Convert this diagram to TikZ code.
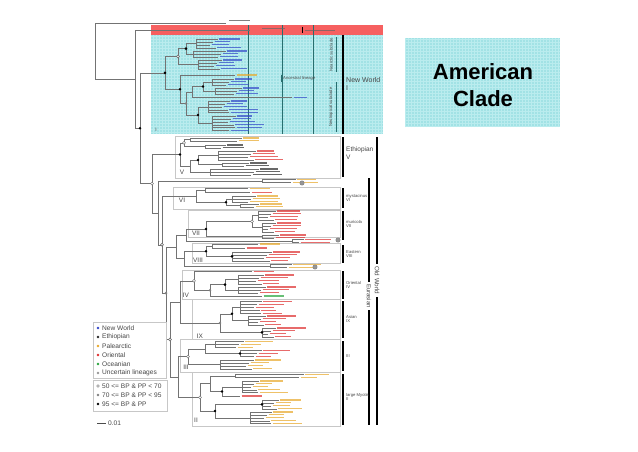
\documentclass[tikz,border=0pt]{standalone}
\usepackage{fontspec}
\setmainfont{Liberation Sans}
\usetikzlibrary{calc}

\definecolor{nwc}{RGB}{50,70,200}
\definecolor{pal}{RGB}{232,168,40}
\definecolor{ori}{RGB}{222,45,45}
\definecolor{eth}{RGB}{40,40,40}
\definecolor{oce}{RGB}{40,165,60}
\definecolor{unc}{RGB}{150,150,150}
\definecolor{cyanbg}{RGB}{162,226,229}
\definecolor{cyangrid}{RGB}{186,236,238}
\definecolor{redbg}{RGB}{246,96,96}
\definecolor{tealline}{RGB}{40,110,110}
\definecolor{labgrey}{RGB}{70,70,70}

\tikzset{
  branch/.style={draw=black!55,line width=0.4pt},
  tiplab/.style={draw=#1,line width=1.1pt,opacity=0.7},
  s95/.style={fill=black},
  s70/.style={fill=black!50},
  s50/.style={fill=white,draw=black!60,line width=0.4pt},
  uncmark/.style={fill=unc,draw=black!50,line width=0.4pt},
  cladebox/.style={draw=black!22,line width=0.4pt},
  bar/.style={line width=1.7pt,black},
  sublab/.style={font=\fontsize{4.2}{4.6}\selectfont,text=labgrey,align=left,anchor=north west,inner sep=0pt},
  roman/.style={font=\fontsize{6.5}{7}\selectfont,text=labgrey,inner sep=0pt},
  leg/.style={font=\fontsize{6.6}{7}\selectfont,text=labgrey,anchor=west,inner sep=0pt}
}

% group of tips hanging from one node
\newcommand\clgrp[6]{%
  \pgfmathsetmacro\ylast{#3+(#4-1)*2.9}
  \coordinate (#1) at (#2,{(#3+\ylast)/2});
  \draw[branch] (#2,#3) -- (#2,\ylast);
  \foreach \k in {1,...,#4}{
    \pgfmathsetmacro\ty{#3+(\k-1)*2.9}
    \pgfmathsetmacro\tx{#5+4*sin(\k*97)}
    \draw[branch] (#2,\ty) -- (\tx,\ty);
    \draw[tiplab=#6] ({\tx+1.5},\ty) -- ++({22+7*cos(\k*61+#3)},0);
  }
}
% single tip
\newcommand\cltip[4]{%
  \coordinate (#1) at (#3,#2);
  \draw[tiplab=#4] ({#3+1.5},#2) -- ++(20,0);
}
% inner node joining two named children
\newcommand\clnode[4]{%
  \path let \p1=(#3), \p2=(#4) in coordinate (#1) at (#2pt,{(\y1+\y2)/2});
  \draw[branch] (#1 |- #3) -- (#1 |- #4) (#1 |- #3) -- (#3) (#1 |- #4) -- (#4);
}

\begin{document}
\begin{tikzpicture}[x=1pt,y=-1pt]
  \useasboundingbox (0,0) rectangle (638,451);
  \fill[white] (0,0) rectangle (638,451);

  % shaded bands
  \fill[cyanbg] (151,35) rectangle (383,134);
  \draw[cyangrid,line width=0.15pt,step=3pt] (151,35) grid (383,134);
  \fill[redbg] (151,25) rectangle (383,35);
  \foreach \xl in {248,282,313}
    \draw[tealline,line width=0.4pt] (\xl,25) -- (\xl,134);

  % clade boxes
  \draw[cladebox] (175,136) rectangle (340,178);
  \draw[cladebox] (173,187) rectangle (340,209);
  \draw[cladebox] (188,210) rectangle (340,237);
  \draw[cladebox] (192,243) rectangle (340,263);
  \draw[cladebox] (182,270) rectangle (340,299.5);
  \draw[cladebox] (192,299.5) rectangle (340,339);
  \draw[cladebox] (180,339.5) rectangle (340,372);
  \draw[cladebox] (192,372.5) rectangle (340,426);

  % outgroups
  \coordinate (og1) at (226,23);
  \draw[tiplab=black!70,line width=0.8pt] (229,20) -- (250,20);
  \coordinate (og2) at (250,30);
  \draw[tiplab=black!60,line width=0.8pt] (262,28) -- (285,28);
  \draw[black,line width=0.6pt] (302,27) -- (302,33);
  \draw[tiplab=black!60,line width=0.8pt] (305,30) -- (335,30);

  % New World: Nearctic
  \clgrp{a1}{196}{39}{4}{214}{nwc}
  \clgrp{a2}{193}{51}{3}{222}{nwc}
  \clnode{a12}{186}{a1}{a2}
  \clgrp{a3}{198}{60}{4}{218}{nwc}
  \clnode{nea}{178}{a12}{a3}
  % New World: Neotropical
  \cltip{b0}{75}{235}{pal}
  \clgrp{b1}{212}{79}{3}{230}{nwc}
  \clgrp{b2}{215}{88}{3}{238}{nwc}
  \clnode{b12}{203}{b1}{b2}
  \coordinate (b3) at (292,97.5);
  \draw[tiplab=nwc] (293.5,97.5) -- ++(13,0);
  \clnode{b123}{192}{b12}{b3}
  \clgrp{b4}{208}{101}{5}{226}{nwc}
  \clgrp{b5}{212}{116}{6}{232}{nwc}
  \clnode{b45}{198}{b4}{b5}
  \clnode{b6}{186}{b123}{b45}
  \clnode{neo}{180}{b0}{b6}
  \clnode{nw}{165}{nea}{neo}

  % Ethiopian V
  \clgrp{v1}{190}{138}{2}{238}{pal}
  \clgrp{v2}{205}{145}{2}{222}{eth}
  \clnode{v12}{184}{v1}{v2}
  \clgrp{v3}{218}{151}{4}{252}{ori}
  \clgrp{v4}{222}{163}{2}{245}{eth}
  \clnode{v34}{198}{v3}{v4}
  \clgrp{v5}{210}{169}{3}{255}{eth}
  \clnode{v35}{190}{v34}{v5}
  \clnode{vr}{180}{v12}{v35}

  % uncertain lineage
  \clgrp{u1}{262}{179.5}{2}{292}{pal}
  % VI
  \cltip{c0}{188.5}{248}{pal}
  \cltip{c1}{192.5}{250}{ori}
  \clnode{c01}{205}{c0}{c1}
  \clgrp{c2}{232}{196}{3}{252}{pal}
  \clgrp{c3}{240}{204}{2}{255}{pal}
  \clnode{c23}{226}{c2}{c3}
  \clnode{vi}{196}{c01}{c23}
  % VII
  \clgrp{d1}{258}{211}{4}{272}{ori}
  \clgrp{d2}{262}{223}{4}{272}{ori}
  \clnode{d12}{252}{d1}{d2}
  \clgrp{d3}{262}{235}{2}{275}{ori}
  \clnode{vii}{206}{d12}{d3}
  \clgrp{u2}{292}{239.5}{2}{300}{ori}
  % VIII
  \cltip{e0}{244}{258}{pal}
  \cltip{e1}{248}{245}{ori}
  \clnode{e01}{212}{e0}{e1}
  \clgrp{e2}{232}{252}{4}{268}{ori}
  \clnode{viii}{206}{e01}{e2}
  \clgrp{u3}{270}{264.5}{2}{288}{pal}
  % IV
  \cltip{f0}{271.5}{252}{ori}
  \clgrp{f1}{238}{275}{4}{260}{ori}
  \clgrp{f2}{238}{287}{3}{262}{ori}
  \clnode{f12}{225}{f1}{f2}
  \cltip{f3}{296}{262}{oce}
  \clnode{f4}{210}{f12}{f3}
  \clnode{iv}{194}{f0}{f4}
  % IX
  \clgrp{g1}{240}{301.5}{5}{258}{ori}
  \clgrp{g2}{248}{316}{4}{262}{ori}
  \clnode{g12}{232}{g1}{g2}
  \clgrp{g3}{262}{328}{4}{272}{ori}
  \clnode{ix}{220}{g12}{g3}
  % III
  \clgrp{h1}{215}{341.5}{3}{240}{pal}
  \clgrp{h2}{240}{350.5}{3}{258}{ori}
  \clnode{h12}{205}{h1}{h2}
  \clgrp{h3}{220}{360}{4}{250}{pal}
  \clnode{iii}{188}{h12}{h3}
  % II
  \clgrp{k1}{235}{374.5}{2}{300}{pal}
  \clgrp{k2}{242}{381}{5}{255}{pal}
  \cltip{k3}{396}{240}{ori}
  \clnode{k23}{222}{k2}{k3}
  \clnode{k123}{210}{k1}{k23}
  \clgrp{k4}{262}{400}{4}{275}{pal}
  \clgrp{k5}{250}{412}{5}{268}{pal}
  \clnode{k45}{215}{k4}{k5}
  \clnode{ii}{200}{k123}{k45}

  % backbone
  \clnode{w9}{178}{iii}{ii}
  \clnode{w8}{180}{iv}{ix}
  \clnode{w7}{170}{w8}{w9}
  \clnode{w6}{184}{viii}{u3}
  \clnode{w5}{186}{vii}{u2}
  \clnode{w4}{176}{w5}{w6}
  \clnode{w3}{166}{w4}{w7}
  \clnode{w2}{162}{vi}{w3}
  \clnode{w1}{158}{u1}{w2}
  \clnode{ow}{152}{vr}{w1}
  \clnode{my}{140}{nw}{ow}
  \clnode{r2}{135}{og2}{my}
  \clnode{rt}{95}{og1}{r2}

  % support values
  \foreach \nn in {nw,neo,a12,b12,b45,my,vr,v34,c23,vii,viii,e2,f12,g12,g3,h2,k23,k45,k4}
    \path[s95] (\nn) circle (1.4pt);
  \foreach \nn in {f4,ix,w3,b6}
    \path[s70] (\nn) circle (1.4pt);
  \foreach \nn in {nea,ow,v12,d12,iv,iii,ii,w7,w2}
    \path[s50] (\nn) circle (1.5pt);
  \path[uncmark] (302,183) circle (2.2pt);
  \path[uncmark] (338,240) circle (2.2pt);
  \path[uncmark] (315,267) circle (2.2pt);

  % cyan labels
  \draw[tealline,line width=0.5pt] (281,74.5) -- (281,81.5);
  \node[sublab,anchor=west] (anc) at (283,78) {Ancestral lineage};
  \draw[tealline,line width=0.8pt] (336,37) -- (336,72);
  \draw[tealline,line width=0.8pt] (336,82) -- (336,132);
  \node[sublab,anchor=center,rotate=90] (nearc) at (331,55) {Nearctic subclade};
  \node[sublab,anchor=center,rotate=90] (neotr) at (331,107) {Neotropical subclade};
  \node[roman,font=\fontsize{5}{5}\selectfont] (rI) at (156,130) {I};

  % clade bars
  \draw[bar] (343,35) -- (343,134);
  \draw[bar] (343,137) -- (343,177);
  \draw[bar] (343,188) -- (343,208);
  \draw[bar] (343,210.5) -- (343,240);
  \draw[bar] (343,245) -- (343,263);
  \draw[bar] (343,271) -- (343,299);
  \draw[bar] (343,301) -- (343,338);
  \draw[bar] (343,341) -- (343,371);
  \draw[bar] (343,374) -- (343,425);
  \draw[bar] (369,178) -- (369,282);
  \draw[bar] (369,310) -- (369,425);
  \draw[bar] (377,137) -- (377,264);
  \draw[bar] (377,297) -- (377,425);
  \node[font=\fontsize{6}{6}\selectfont,text=labgrey,rotate=-90,inner sep=0pt] (eura) at (369,296) {Eurasian};
  \node[font=\fontsize{6.3}{6}\selectfont,text=labgrey,rotate=-90,inner sep=0pt] (oldw) at (377,280.5) {Old World};

  \node[sublab,font=\fontsize{7}{8}\selectfont] (lnw) at (346,77) {New World\\I};
  \node[sublab,font=\fontsize{6.5}{7.5}\selectfont] (leth) at (346,147) {Ethiopian\\V};
  \node[sublab] (lvi) at (346,194) {mystacinus\\VI};
  \node[sublab] (lvii) at (346,220) {muricola\\VII};
  \node[sublab] (lviii) at (346,250) {Eastern\\VIII};
  \node[sublab] (liv) at (346,281) {Oriental\\IV};
  \node[sublab] (lix) at (346,315) {Asian\\IX};
  \node[sublab] (liii) at (346,354) {III};
  \node[sublab] (lii) at (346,393) {large Myotis\\II};

  % roman numerals
  \node[roman] (nV) at (182,172) {V};
  \node[roman] (nVI) at (182,200) {VI};
  \node[roman] (nVII) at (196,233) {VII};
  \node[roman] (nVIII) at (198,260) {VIII};
  \node[roman] (nIV) at (186,295) {IV};
  \node[roman] (nIX) at (200,336) {IX};
  \node[roman] (nIII) at (186,367) {III};
  \node[roman] (nII) at (196,420) {II};

  % legend
  \draw[cladebox] (93,322) rectangle (166,378);
  \draw[cladebox] (93,380) rectangle (167,411);
  \foreach \c/\t [count=\i from 0] in {nwc/New World,eth/Ethiopian,pal/Palearctic,ori/Oriental,oce/Oceanian,unc/Uncertain lineages}{
    \fill[\c] (98,{328+\i*9}) circle (1.3pt);
    \node[leg] (lg\i) at (102,{328+\i*9}) {\t};
  }
  \path[s50] (98,386) circle (1.3pt);
  \node[leg] (ls50) at (102,386) {50 <= BP \& PP < 70};
  \path[s70] (98,395) circle (1.3pt);
  \node[leg] (ls70) at (102,395) {70 <= BP \& PP < 95};
  \path[s95] (98,404) circle (1.3pt);
  \node[leg] (ls95) at (102,404) {95 <= BP \& PP};
  \draw[black!70,line width=0.5pt] (97,423) -- (106,423);
  \node[leg] (scl) at (108,423) {0.01};

  % American clade box
  \fill[cyanbg] (405,38) rectangle (560,127);
  \draw[cyangrid,line width=0.15pt,step=3pt] (405,38) grid (560,127);
  \node[font=\fontsize{22}{27}\selectfont\bfseries,align=center] (amer) at (483,85) {American\\Clade};
\end{tikzpicture}
\end{document}
